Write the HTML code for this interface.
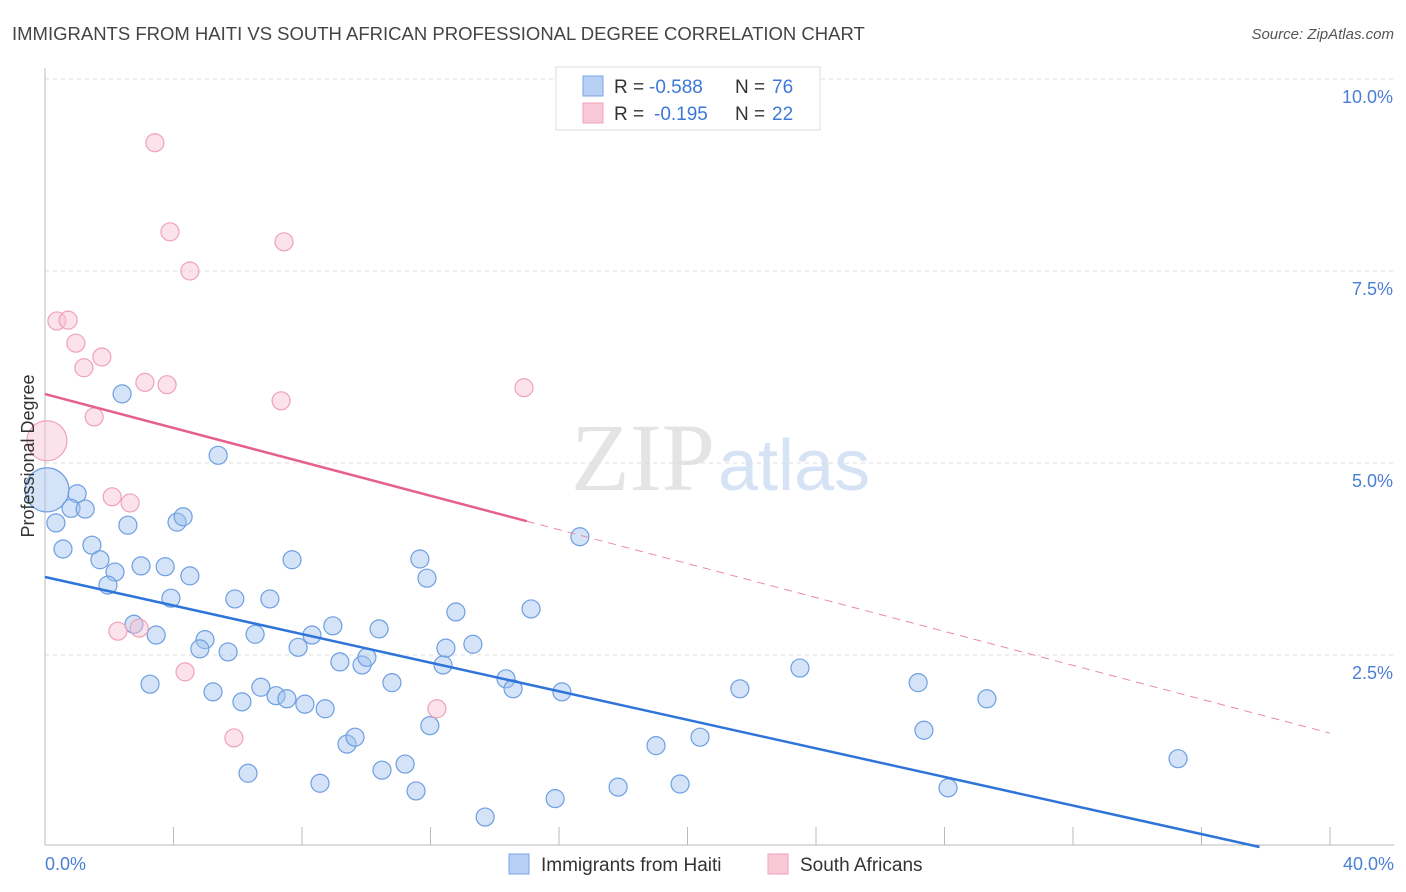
<!DOCTYPE html>
<html><head><meta charset="utf-8"><style>
body{margin:0;background:#fff;font-family:"Liberation Sans",sans-serif}
svg{display:block}
</style></head><body>
<svg id="chart" width="1406" height="892">
<text x="12" y="40" font-size="18.5" fill="#444">IMMIGRANTS FROM HAITI VS SOUTH AFRICAN PROFESSIONAL DEGREE CORRELATION CHART</text>
<text x="1394" y="39" font-size="15" fill="#555" font-style="italic" text-anchor="end">Source: ZipAtlas.com</text>
<text x="715" y="490" font-size="96" fill="#e4e4e4" text-anchor="end" font-family="Liberation Serif,serif">ZIP</text>
<text x="718" y="490" font-size="72" fill="#d6e3f5">atlas</text>
<g id="grid"></g><g id="pts"></g><g id="lines"></g>
<text transform="translate(34,456) rotate(-90)" font-size="18" fill="#333" text-anchor="middle">Professional Degree</text>
<text x="45" y="870" font-size="18" fill="#4a7fd6">0.0%</text>
<text x="1394" y="870" font-size="18" fill="#4a7fd6" text-anchor="end">40.0%</text>
<g>
<rect x="556" y="67" width="264" height="63" fill="#fff" stroke="#ddd"/>
<rect x="583" y="76" width="20" height="20" fill="#b8d0f4" stroke="#7aa5e4"/>
<rect x="583" y="103" width="20" height="20" fill="#f9c8d6" stroke="#eea3ba"/>
<text x="614" y="93" font-size="19" fill="#333">R =</text>
<text x="649" y="93" font-size="19" fill="#3d78d8">-0.588</text>
<text x="735" y="93" font-size="19" fill="#333">N =</text>
<text x="772" y="93" font-size="19" fill="#3d78d8">76</text>
<text x="614" y="120" font-size="19" fill="#333">R =</text>
<text x="654" y="120" font-size="19" fill="#3d78d8">-0.195</text>
<text x="735" y="120" font-size="19" fill="#333">N =</text>
<text x="772" y="120" font-size="19" fill="#3d78d8">22</text>
</g>
<g>
<rect x="509" y="854" width="20" height="20" fill="#b8d0f4" stroke="#7aa5e4"/>
<text x="541" y="871" font-size="19" fill="#333">Immigrants from Haiti</text>
<rect x="768" y="854" width="20" height="20" fill="#f9c8d6" stroke="#eea3ba"/>
<text x="800" y="871" font-size="19" fill="#333">South Africans</text>
</g>
</svg>
<script>
const yTicks=[2.5,5,7.5,10];
const yTickLabels=["2.5%","5.0%","7.5%","10.0%"];
const xTicks=[0,4,8,12,16,20,24,28,32,36,40];
const haitiX=[2.40,5.39,0.06,1.00,0.81,1.25,0.34,2.58,4.11,4.30,0.56,1.46,1.71,2.18,1.96,2.99,3.74,4.51,7.69,11.67,11.89,16.65,3.92,5.91,7.00,12.79,15.13,2.77,3.46,4.98,4.82,5.70,6.54,7.88,8.31,8.96,10.40,12.48,13.32,9.18,9.87,10.02,12.39,14.35,14.57,16.09,3.27,5.23,6.13,6.72,7.19,7.53,8.09,8.72,10.80,11.98,9.40,9.65,6.32,8.56,10.49,11.21,11.55,13.70,15.88,17.84,19.02,19.77,20.39,21.63,23.50,27.18,27.36,28.11,29.32,35.27];
const haitiY=[5.90,5.10,4.65,4.60,4.41,4.40,4.22,4.19,4.23,4.30,3.88,3.93,3.74,3.58,3.41,3.66,3.65,3.53,3.74,3.75,3.50,4.04,3.24,3.23,3.23,3.06,3.10,2.90,2.76,2.70,2.58,2.54,2.77,2.60,2.76,2.88,2.84,2.59,2.64,2.41,2.37,2.47,2.37,2.19,2.06,2.02,2.12,2.02,1.89,2.08,1.97,1.93,1.86,1.80,2.14,1.58,1.34,1.43,0.96,0.83,1.00,1.08,0.73,0.39,0.63,0.78,1.32,0.82,1.43,2.06,2.33,2.14,1.52,0.77,1.93,1.15];
const saX=[3.42,3.89,7.44,4.51,0.37,0.72,0.96,1.77,1.21,3.11,3.80,14.91,7.35,1.53,0.06,2.09,2.65,2.27,2.93,4.36,12.20,5.88];
const saY=[9.17,8.01,7.88,7.50,6.85,6.86,6.56,6.38,6.24,6.05,6.02,5.98,5.81,5.60,5.29,4.56,4.48,2.81,2.85,2.28,1.80,1.42];
const haitiBig=[2];
const saBig=[14];
const haitiTrend=[3.516,-0.0930];
const saTrend=[5.898,-0.1104];
const saSolidEnd=15.0;

const X=v=>45+v*32.125, Y=v=>847-v*76.8;
const NS="http://www.w3.org/2000/svg";
const mk=(t,a,p)=>{const e=document.createElementNS(NS,t);for(const k in a)e.setAttribute(k,a[k]);p.appendChild(e);return e;};
const gridG=document.getElementById('grid'),ptsG=document.getElementById('pts'),linesG=document.getElementById('lines'),svgEl=document.getElementById('chart');
yTicks.forEach((t,i)=>{
 const l=mk('line',{x1:45,x2:1394,y1:Y(t),y2:Y(t),stroke:'#ddd','stroke-dasharray':'4,4'},gridG);
 
 
 const tx=mk('text',{x:1393,y:Y(t)+24,'font-size':18,fill:'#4a7fd6','text-anchor':'end'},svgEl);
 tx.textContent=yTickLabels[i];
 
 
});
const topGrid=mk('line',{x1:45,x2:1394,y1:79,y2:79,stroke:'#ddd','stroke-dasharray':'4,4'},gridG);


const ya=mk('line',{x1:45,x2:45,y1:68,y2:845,stroke:'#bbb'},gridG);


const xa=mk('line',{x1:45,x2:1394,y1:845,y2:845,stroke:'#bbb'},gridG);


xTicks.forEach(t=>{
 const l=mk('line',{x1:X(t),x2:X(t),y1:827,y2:845,stroke:'#bbb'},gridG);
 
 
});
haitiX.forEach((x,i)=>{
 const c=mk('circle',{cx:X(x),cy:Y(haitiY[i]),r:haitiBig.includes(i)?22:9,fill:'rgba(160,192,238,0.45)',stroke:'#6d9fe2','stroke-width':1.2},ptsG);
 
 
});
saX.forEach((x,i)=>{
 const c=mk('circle',{cx:X(x),cy:Y(saY[i]),r:saBig.includes(i)?20:9,fill:'rgba(248,190,208,0.45)',stroke:'#efa2b9','stroke-width':1.2},ptsG);
 
 
});
const hEnd=-haitiTrend[0]/haitiTrend[1];
const bl=mk('line',{x1:X(0),y1:Y(haitiTrend[0]),x2:X(hEnd),y2:Y(0),stroke:'#2f74d8','stroke-width':2.5},linesG);


const sy=x=>saTrend[0]+saTrend[1]*x;
const pl=mk('line',{x1:X(0),y1:Y(sy(0)),x2:X(saSolidEnd),y2:Y(sy(saSolidEnd)),stroke:'#e5608a','stroke-width':2.5},linesG);


const pd=mk('line',{x1:X(saSolidEnd),y1:Y(sy(saSolidEnd)),x2:X(40),y2:Y(sy(40)),stroke:'#e98aa8','stroke-width':1,'stroke-dasharray':'8,6'},linesG);


</script>
</body></html>
